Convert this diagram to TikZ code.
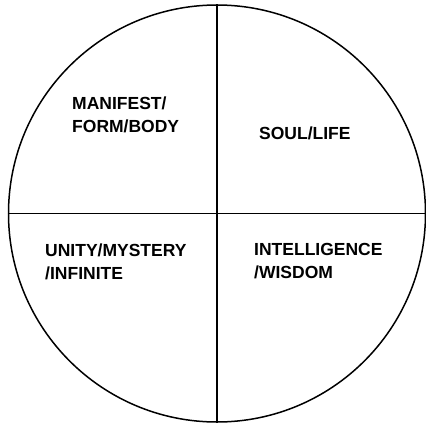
\documentclass[tikz,border=0pt]{standalone}
\usepackage{fontspec}
\setmainfont{Liberation Sans}
\usepackage{tikz}
\usetikzlibrary{positioning}

\begin{document}
\begin{tikzpicture}[
    x=1pt, y=-1pt,
    wheel/.style={circle, draw, line width=1.5pt, minimum size=417pt, inner sep=0pt},
    divider/.style={line width=1.5pt},
    quarter_label/.style={anchor=base west, align=left, inner sep=0pt,
        font=\fontsize{17.5}{23}\selectfont\bfseries}
]
    \useasboundingbox (0,0) rectangle (426,426);

    % The circle and its two dividing lines
    \node[wheel] (disc) at (217, 213.5) {};
    \draw[divider] (disc.north) -- (disc.south);
    \draw[divider] (disc.west) -- (disc.east);

    % Labels of the four quarters
    \node[quarter_label] (form) at (72, 132) {MANIFEST/\\FORM/BODY};
    \node[quarter_label] (soul) at (259, 139) {SOUL/LIFE};
    \node[quarter_label] (unity) at (45, 279) {UNITY/MYSTERY\\/INFINITE};
    \node[quarter_label] (wisdom) at (254, 278) {INTELLIGENCE\\/WISDOM};

\end{tikzpicture}
\end{document}
